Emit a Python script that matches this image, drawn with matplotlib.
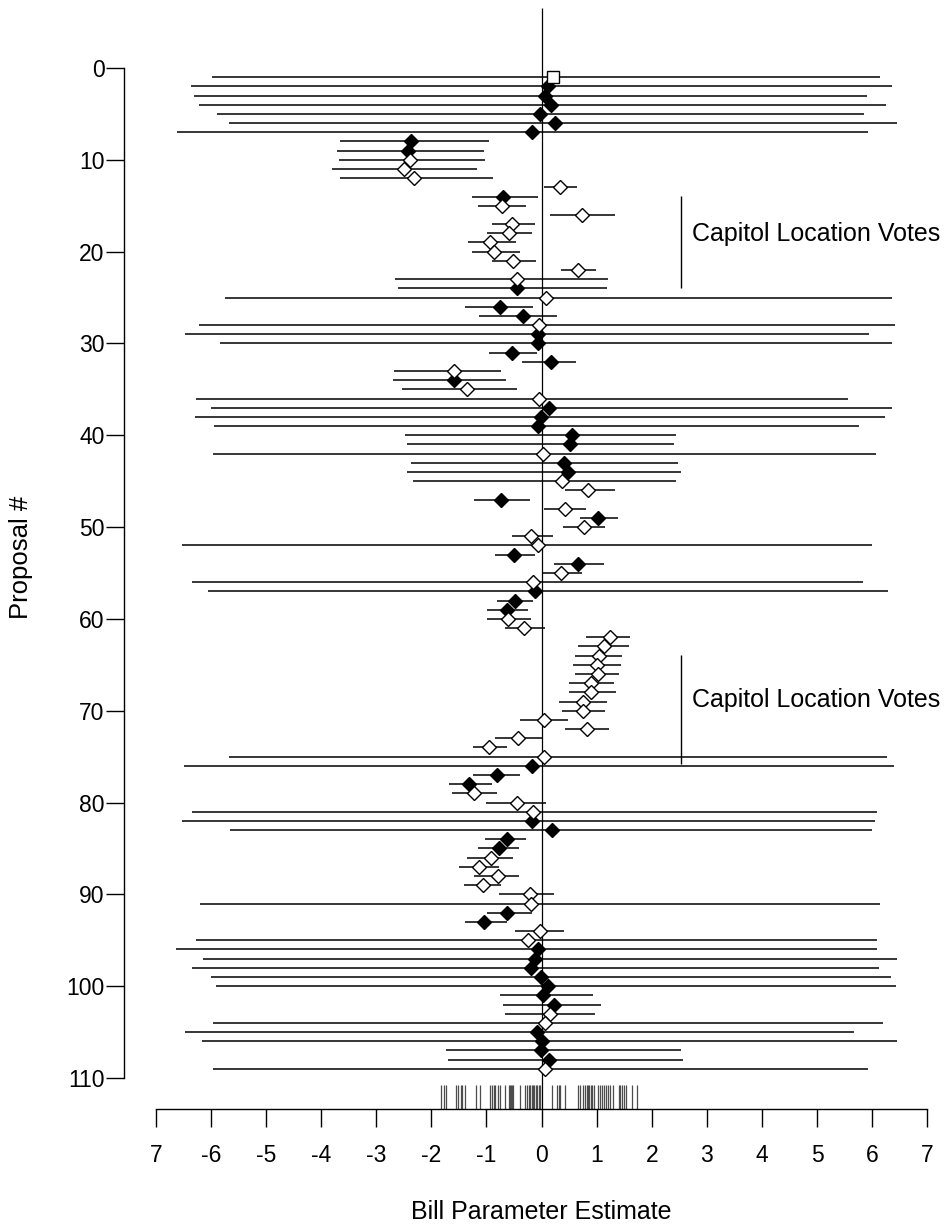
import matplotlib
matplotlib.use("Agg")
import matplotlib.pyplot as plt
import numpy as np

plt.rcParams['font.family'] = ['Liberation Sans', 'DejaVu Sans']

# ---- data ----
proposal = list(range(1, 110))
kind = ['S','F','F','F','F','F','F','F','F','O','O','O','O','F',          # 1-14
        'O','O','O','O','O','O','O','O','O','F','O','F','F','O','F','F',  # 15-30
        'F','F','O','F','O','O','F','F','F','F','F','O','F','F','O','O',  # 31-46
        'F','O','F','O','O','O','F','F','O','O','F','F','F','O','O','O',  # 47-62
        'O','O','O','O','O','O','O','O','O','O','O','O','O','F','F','F',  # 63-78
        'O','O','O','F','F','F','F','O','O','O','O','O','O','F','F','O',  # 79-94
        'O','F','F','F','F','F','F','F','O','O','F','F','F','F','O']      # 95-109
estimate = [0.20, 0.12, 0.06, 0.18, -0.02, 0.24, -0.17, -2.36, -2.43, -2.39,
            -2.50, -2.31, 0.34, -0.70, -0.72, 0.73, -0.54, -0.59, -0.94, -0.87,
            -0.52, 0.66, -0.45, -0.45, 0.08, -0.75, -0.34, -0.04, -0.07, -0.06,
            -0.53, 0.18, -1.59, -1.59, -1.35, -0.05, 0.14, -0.01, -0.06, 0.55,
            0.51, 0.02, 0.40, 0.48, 0.37, 0.85, -0.74, 0.43, 1.02, 0.77,
            -0.19, -0.06, -0.50, 0.67, 0.35, -0.16, -0.12, -0.49, -0.63, -0.61,
            -0.32, 1.25, 1.14, 1.05, 1.00, 1.02, 0.90, 0.90, 0.75, 0.75,
            0.04, 0.83, -0.43, -0.96, 0.04, -0.17, -0.80, -1.32, -1.23, -0.45,
            -0.16, -0.18, 0.19, -0.62, -0.77, -0.91, -1.13, -0.79, -1.06, -0.21,
            -0.19, -0.62, -1.05, -0.02, -0.25, -0.07, -0.11, -0.19, -0.01, 0.12,
            0.03, 0.22, 0.15, 0.07, -0.08, 0.01, -0.01, 0.14, 0.07]
lower = [-5.98, -6.37, -6.31, -6.21, -5.89, -5.67, -6.62, -3.66, -3.72, -3.68,
         -3.81, -3.65, 0.04, -1.27, -1.15, 0.16, -0.90, -0.99, -1.34, -1.27,
         -0.90, 0.35, -2.65, -2.61, -5.74, -1.38, -1.13, -6.21, -6.47, -5.84,
         -0.96, -0.35, -2.67, -2.69, -2.53, -6.27, -6.00, -6.29, -5.94, -2.48,
         -2.45, -5.96, -2.36, -2.45, -2.33, 0.43, -1.22, 0.04, 0.69, 0.39,
         -0.53, -6.52, -0.85, 0.22, 0.00, -6.34, -6.06, -0.80, -0.99, -0.99,
         -0.67, 0.81, 0.66, 0.61, 0.58, 0.61, 0.50, 0.50, 0.32, 0.37,
         -0.39, 0.43, -0.85, -1.24, -5.67, -6.48, -1.24, -1.67, -1.62, -1.01,
         -6.35, -6.52, -5.65, -1.03, -1.16, -1.35, -1.50, -1.22, -1.41, -0.78,
         -6.20, -0.99, -1.39, -0.48, -6.27, -6.63, -6.14, -6.34, -6.00, -5.90,
         -0.75, -0.69, -0.67, -5.96, -6.47, -6.16, -1.74, -1.70, -5.96]
upper = [6.14, 6.37, 5.90, 6.25, 5.85, 6.45, 5.93, -0.95, -1.04, -1.02,
         -1.17, -0.88, 0.64, -0.07, -0.28, 1.33, -0.12, -0.18, -0.47, -0.39,
         -0.10, 0.99, 1.21, 1.19, 6.37, -0.16, 0.29, 6.41, 5.95, 6.36,
         -0.08, 0.62, -0.74, -0.65, -0.45, 5.57, 6.36, 6.24, 5.76, 2.44,
         2.41, 6.07, 2.47, 2.54, 2.44, 1.33, -0.21, 0.81, 1.38, 1.15,
         0.20, 5.99, -0.12, 1.13, 0.74, 5.83, 6.29, -0.16, -0.24, -0.19,
         0.06, 1.60, 1.59, 1.47, 1.44, 1.40, 1.31, 1.35, 1.18, 1.16,
         0.48, 1.22, 0.03, -0.63, 6.27, 6.39, -0.39, -0.90, -0.80, 0.08,
         6.08, 6.05, 6.00, -0.28, -0.41, -0.51, -0.78, -0.41, -0.73, 0.23,
         6.14, -0.17, -0.63, 0.40, 6.09, 6.08, 6.45, 6.12, 6.34, 6.43,
         0.94, 1.08, 0.98, 6.20, 5.68, 6.45, 2.54, 2.57, 5.93]
rug = [-1.82, -1.77, -1.73, -1.55, -1.52, -1.47, -1.44, -1.39, -1.19, -1.11,
       -0.94, -0.90, -0.87, -0.84, -0.79, -0.76, -0.67, -0.59, -0.58, -0.56,
       -0.54, -0.52, -0.39, -0.30, -0.26, -0.23, -0.20, -0.18, -0.15, -0.13,
       -0.10, -0.08, -0.05, -0.03, 0.19, 0.28, 0.31, 0.34, 0.43, 0.66, 0.70,
       0.75, 0.79, 0.82, 0.84, 0.87, 0.89, 0.92, 0.95, 1.02, 1.06, 1.10,
       1.14, 1.17, 1.21, 1.24, 1.29, 1.40, 1.43, 1.47, 1.50, 1.53, 1.64, 1.74]
x_ticks = [-7, -6, -5, -4, -3, -2, -1, 0, 1, 2, 3, 4, 5, 6, 7]
x_ticklabels = ['7', '-6', '-5', '-4', '-3', '-2', '-1', '0', '1', '2', '3', '4', '5', '6', '7']
y_ticks = [0, 10, 20, 30, 40, 50, 60, 70, 80, 90, 100, 110]
annot_label = "Capitol Location Votes"
annot_spans = [(13.9, 24.0), (63.9, 75.8)]
annot_text_y = [18.1, 68.8]
annot_x = 2.54

# ---- figure ----
W, H = 948, 1228
fig = plt.figure(figsize=(W / 100, H / 100), dpi=100)
x0_px, unit_x = 541.5, 55.1
y0_px, unit_y = 68.0, 9.1818
left_px, bottom_px = 124, 1109
ax = fig.add_axes([left_px / W, 1 - bottom_px / H, 1 - left_px / W, bottom_px / H])
ax.set_xlim((left_px - x0_px) / unit_x, (W - x0_px) / unit_x)
ax.set_ylim((bottom_px - y0_px) / unit_y, -y0_px / unit_y)
ymax = (bottom_px - y0_px) / unit_y

ax.vlines(0, -6.5, ymax, color='black', lw=0.9, zorder=1)
ax.hlines(proposal, lower, upper, color='black', lw=1.1, zorder=2)

prop = np.array(proposal)
est = np.array(estimate)
k = np.array(kind)
m = k == 'F'
ax.plot(est[m], prop[m], 'D', ms=6.9, mfc='black', mec='black', mew=1.0, zorder=3)
m = k == 'O'
ax.plot(est[m], prop[m], 'D', ms=6.9, mfc='white', mec='black', mew=1.0, zorder=3)
m = k == 'S'
ax.plot(est[m], prop[m], 's', ms=8.5, mfc='white', mec='black', mew=1.0, zorder=3)

ax.vlines(rug, ymax - 2.6, ymax, color='0.3', lw=0.9, zorder=1)

for (a, b), ty in zip(annot_spans, annot_text_y):
    ax.vlines(annot_x, a, b, color='black', lw=1.0)
    ax.text(annot_x + 0.2, ty, annot_label, fontsize=18, va='center', ha='left')

for s in ['top', 'right']:
    ax.spines[s].set_visible(False)
ax.spines['left'].set_bounds(0, 110)
ax.spines['bottom'].set_bounds(-7, 7)
for s in ['left', 'bottom']:
    ax.spines[s].set_linewidth(1.0)
ax.set_xticks(x_ticks)
ax.set_xticklabels(x_ticklabels, fontsize=16.5)
ax.set_yticks(y_ticks)
ax.set_yticklabels([str(v) for v in y_ticks], fontsize=16.5)
ax.tick_params(axis='x', length=13, width=1.0, pad=12)
ax.tick_params(axis='y', length=13, width=1.0, pad=1)
ax.patch.set_visible(False)

fig.text(x0_px / W, 1 - 1212 / H, "Bill Parameter Estimate", fontsize=18, ha='center', va='center')
fig.text(21 / W, 1 - 557 / H, "Proposal #", fontsize=18.5, ha='center', va='center', rotation=90)

fig.savefig("out.png", dpi=100)
